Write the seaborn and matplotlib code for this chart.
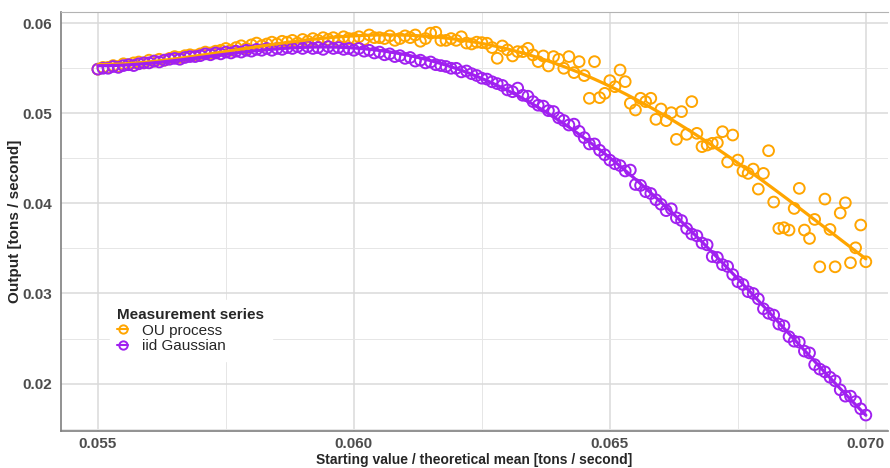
import matplotlib
matplotlib.use('Agg')
import matplotlib.pyplot as plt
from matplotlib.lines import Line2D
from matplotlib.ticker import MultipleLocator
import pandas as pd
import seaborn as sns

# Starting value / theoretical mean [tons / second]
start_values = [
    0.0550, 0.0551, 0.0552, 0.0553, 0.0554, 0.0555, 0.0556, 0.0557, 0.0558, 0.0559,
    0.0560, 0.0561, 0.0562, 0.0563, 0.0564, 0.0565, 0.0566, 0.0567, 0.0568, 0.0569,
    0.0570, 0.0571, 0.0572, 0.0573, 0.0574, 0.0575, 0.0576, 0.0577, 0.0578, 0.0579,
    0.0580, 0.0581, 0.0582, 0.0583, 0.0584, 0.0585, 0.0586, 0.0587, 0.0588, 0.0589,
    0.0590, 0.0591, 0.0592, 0.0593, 0.0594, 0.0595, 0.0596, 0.0597, 0.0598, 0.0599,
    0.0600, 0.0601, 0.0602, 0.0603, 0.0604, 0.0605, 0.0606, 0.0607, 0.0608, 0.0609,
    0.0610, 0.0611, 0.0612, 0.0613, 0.0614, 0.0615, 0.0616, 0.0617, 0.0618, 0.0619,
    0.0620, 0.0621, 0.0622, 0.0623, 0.0624, 0.0625, 0.0626, 0.0627, 0.0628, 0.0629,
    0.0630, 0.0631, 0.0632, 0.0633, 0.0634, 0.0635, 0.0636, 0.0637, 0.0638, 0.0639,
    0.0640, 0.0641, 0.0642, 0.0643, 0.0644, 0.0645, 0.0646, 0.0647, 0.0648, 0.0649,
    0.0650, 0.0651, 0.0652, 0.0653, 0.0654, 0.0655, 0.0656, 0.0657, 0.0658, 0.0659,
    0.0660, 0.0661, 0.0662, 0.0663, 0.0664, 0.0665, 0.0666, 0.0667, 0.0668, 0.0669,
    0.0670, 0.0671, 0.0672, 0.0673, 0.0674, 0.0675, 0.0676, 0.0677, 0.0678, 0.0679,
    0.0680, 0.0681, 0.0682, 0.0683, 0.0684, 0.0685, 0.0686, 0.0687, 0.0688, 0.0689,
    0.0690, 0.0691, 0.0692, 0.0693, 0.0694, 0.0695, 0.0696, 0.0697, 0.0698, 0.0699,
    0.0700,
]

# Output [tons / second] -- OU process
ou_process = [
    0.0549, 0.0551, 0.0551, 0.0553, 0.0552, 0.0555, 0.0554, 0.0556, 0.0557, 0.0556,
    0.0559, 0.0558, 0.0560, 0.0559, 0.0561, 0.0563, 0.0562, 0.0564, 0.0565, 0.0564,
    0.0566, 0.0568, 0.0567, 0.0569, 0.0570, 0.0572, 0.0570, 0.0573, 0.0575, 0.0572,
    0.0576, 0.0578, 0.0575, 0.0577, 0.0579, 0.0577, 0.0580, 0.0579, 0.0581, 0.0578,
    0.0582, 0.0580, 0.0583, 0.0581, 0.0584, 0.0582, 0.0584, 0.0581, 0.0585, 0.0583,
    0.0583, 0.0585, 0.0582, 0.0587, 0.0584, 0.0584, 0.0583, 0.0586, 0.0581, 0.0583,
    0.0586, 0.0584, 0.0587, 0.0580, 0.0583, 0.0589, 0.0590, 0.0581, 0.0581, 0.0583,
    0.0581, 0.0585, 0.0578, 0.0577, 0.0579, 0.05785, 0.05778, 0.0573, 0.05611, 0.05748,
    0.05704, 0.05637, 0.05685, 0.05685, 0.05722, 0.05648, 0.05574, 0.05637, 0.05526, 0.0563,
    0.0560, 0.0550, 0.0563, 0.05452, 0.05574, 0.05419, 0.05167, 0.05574, 0.05174, 0.05222,
    0.05363, 0.05296, 0.05481, 0.05352, 0.05111, 0.05037, 0.05167, 0.0513, 0.05167, 0.04933,
    0.05048, 0.04919, 0.05007, 0.04711, 0.05019, 0.04767, 0.0513, 0.04778, 0.0463, 0.04648,
    0.04667, 0.04674, 0.04796, 0.0446, 0.04759, 0.04481, 0.04359, 0.04333, 0.04381, 0.04159,
    0.04333, 0.04585, 0.04015, 0.03722, 0.0373, 0.03704, 0.03944, 0.04167, 0.03704, 0.03611,
    0.03822, 0.03296, 0.04048, 0.03711, 0.03296, 0.03893, 0.04007, 0.03341, 0.03507, 0.0376,
    0.03352,
]

# Output [tons / second] -- iid Gaussian
iid_gaussian = [
    0.0549, 0.0550, 0.0550, 0.0552, 0.0551, 0.0553, 0.0554, 0.0553, 0.0555, 0.0556,
    0.0556, 0.0558, 0.0557, 0.0559, 0.0560, 0.0561, 0.0560, 0.0562, 0.0563, 0.0563,
    0.0564, 0.0566, 0.0565, 0.0567, 0.0566, 0.0568, 0.0567, 0.0569, 0.0568, 0.0570,
    0.0569, 0.0571, 0.0570, 0.0572, 0.0570, 0.0572, 0.0571, 0.0573, 0.0572, 0.0574,
    0.0572, 0.0574, 0.0572, 0.0573, 0.0571, 0.0574, 0.0572, 0.0573, 0.0571, 0.0572,
    0.0570, 0.0572, 0.0569, 0.0570, 0.0567, 0.0568, 0.0565, 0.0566, 0.0563, 0.0564,
    0.0561, 0.0562, 0.0558, 0.0559, 0.0556, 0.0557, 0.0554, 0.0553, 0.0552, 0.0550,
    0.0550, 0.0546, 0.0547, 0.0544, 0.0542, 0.0539, 0.0538, 0.0535, 0.0533, 0.0531,
    0.0526, 0.0524, 0.0528, 0.0520, 0.0519, 0.0513, 0.0509, 0.0508, 0.0503, 0.0502,
    0.0495, 0.0492, 0.0487, 0.0488, 0.0480, 0.0473, 0.0466, 0.0466, 0.0459, 0.0454,
    0.0448, 0.0444, 0.0442, 0.0436, 0.0437, 0.0421, 0.0420, 0.0413, 0.0411, 0.0404,
    0.0399, 0.0392, 0.0394, 0.0384, 0.0381, 0.0372, 0.0366, 0.0364, 0.0356, 0.0354,
    0.0341, 0.0340, 0.0332, 0.0330, 0.0321, 0.0313, 0.0310, 0.0302, 0.0300, 0.0294,
    0.0283, 0.0278, 0.0276, 0.0266, 0.0264, 0.0252, 0.0247, 0.0246, 0.0236, 0.0234,
    0.0221, 0.0216, 0.0213, 0.0207, 0.0203, 0.0193, 0.0186, 0.0186, 0.0180, 0.0172,
    0.0165,
]

series_names = ['OU process', 'iid Gaussian']
colores = {'OU process': '#FFA500', 'iid Gaussian': '#A020F0'}

df = pd.concat([
    pd.DataFrame({'start': start_values, 'output': ou_process, 'series': 'OU process'}),
    pd.DataFrame({'start': start_values, 'output': iid_gaussian, 'series': 'iid Gaussian'}),
], ignore_index=True)

sns.set_style('white')
plt.rcParams['font.family'] = ['Liberation Sans', 'DejaVu Sans']

fig = plt.figure(figsize=(8.9, 4.68), dpi=100)
ax = fig.add_axes([0.068, 0.0791, 0.9296, 0.8947])

# ── puntos + curva suavizada por serie ─────────────────────
for nombre in series_names:
    sub = df[df['series'] == nombre]
    col = colores[nombre]
    sns.scatterplot(data=sub, x='start', y='output', ax=ax, s=60,
                    facecolor='none', edgecolor=col, linewidth=1.4,
                    legend=False, zorder=3)
    sns.regplot(data=sub, x='start', y='output', ax=ax, scatter=False,
                order=4, ci=None, truncate=True,
                line_kws={'color': col, 'lw': 2.3, 'zorder': 4})

ax.set_xlim(0.054271, 0.07043)
ax.set_ylim(0.014734, 0.06122)

ax.xaxis.set_major_locator(MultipleLocator(0.005))
ax.xaxis.set_minor_locator(MultipleLocator(0.0025))
ax.yaxis.set_major_locator(MultipleLocator(0.01))
ax.yaxis.set_minor_locator(MultipleLocator(0.005))
ax.xaxis.set_major_formatter(matplotlib.ticker.FormatStrFormatter('%.3f'))
ax.yaxis.set_major_formatter(matplotlib.ticker.FormatStrFormatter('%.2f'))

ax.grid(which='major', color='#DADADA', lw=1.1, zorder=0)
ax.grid(which='minor', color='#E6E6E6', lw=0.7, zorder=0)
ax.set_axisbelow(True)

for lado in ['left', 'bottom']:
    ax.spines[lado].set_color('#7F7F7F')
    ax.spines[lado].set_linewidth(1.2)
ax.spines['top'].set_color('#B3B3B3')
ax.spines['right'].set_visible(False)

ax.tick_params(which='major', length=3, color='#B3B3B3', width=1,
               labelsize=11, labelcolor='#4D4D4D')
ax.tick_params(axis='x', which='major', pad=1)
ax.tick_params(axis='y', which='major', pad=3)
ax.tick_params(which='minor', length=0)
for lab in ax.get_xticklabels() + ax.get_yticklabels():
    lab.set_fontweight('bold')

ax.set_xlabel('Starting value / theoretical mean [tons / second]',
              fontsize=10, fontweight='bold')
ax.xaxis.set_label_coords(0.5, -0.0515)
ax.set_ylabel('Output [tons / second]', fontsize=11, fontweight='bold')
ax.yaxis.set_label_coords(-0.046, 0.5)

handles = [Line2D([], [], color=colores[n], marker='o', markerfacecolor='none',
                  markeredgewidth=1.4, markersize=6, lw=1.5) for n in series_names]
leg = ax.legend(handles, series_names, title='Measurement series',
                loc='upper left', bbox_to_anchor=(0.05, 0.33), frameon=True,
                framealpha=1, facecolor='white', edgecolor='white',
                fontsize=11, title_fontproperties={'weight': 'bold', 'size': 11},
                handlelength=0.7, handletextpad=0.9, labelspacing=0.1,
                borderpad=0.5, alignment='left')

plt.savefig('out.png', dpi=100)
plt.close()
print("out.png guardado")
